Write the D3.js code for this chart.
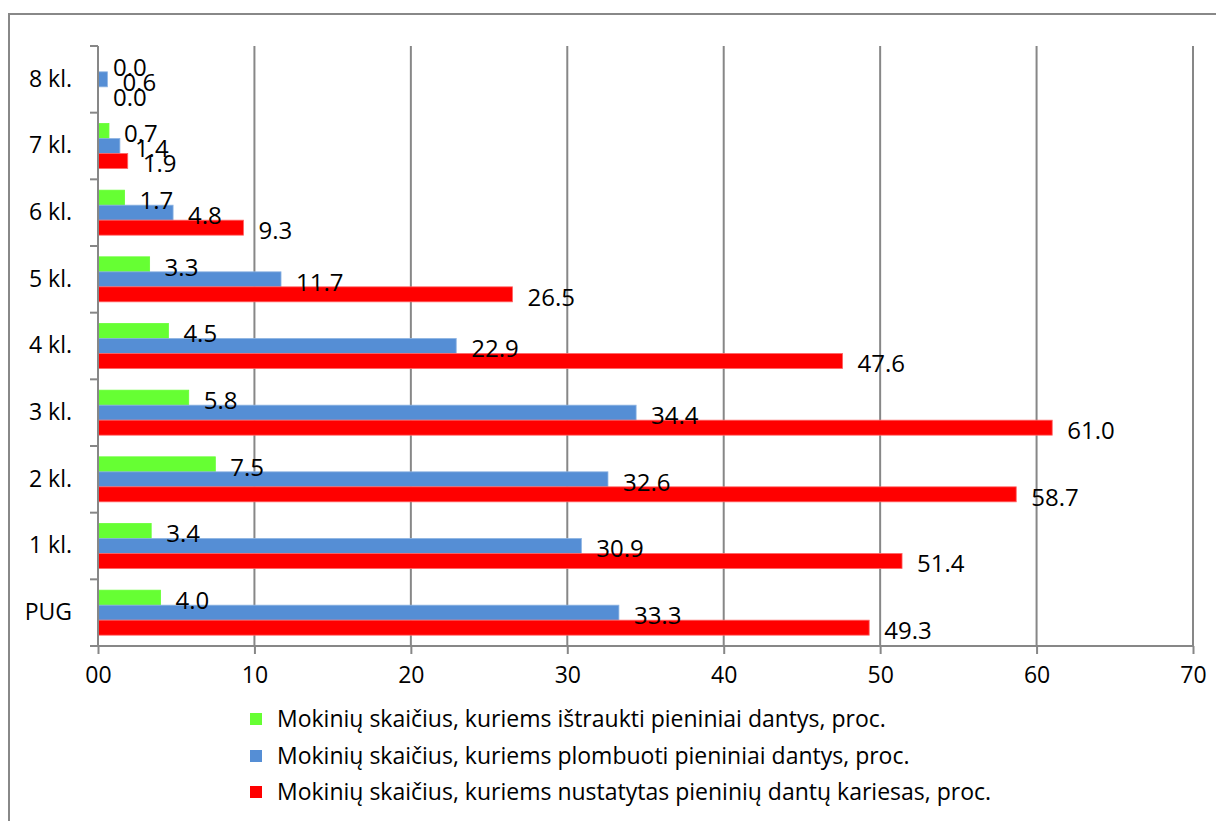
<!DOCTYPE html>
<html>
<head>
<meta charset="utf-8">
<script src="https://cdn.jsdelivr.net/npm/d3@7"></script>
<style>
  html, body { margin: 0; padding: 0; background: #fff; }
  svg { display: block; }
  text { font-family: "Open Sans", "Noto Sans", sans-serif; fill: #000; }
</style>
</head>
<body>
<svg id="chart" width="1216" height="821"></svg>
<script>
// Categories, bottom to top as drawn
const categories = ["PUG", "1 kl.", "2 kl.", "3 kl.", "4 kl.", "5 kl.", "6 kl.", "7 kl.", "8 kl."];
// Series values (percent)
const extracted = [4.0, 3.4, 7.5, 5.8, 4.5, 3.3, 1.7, 0.7, 0.0];
const filled    = [33.3, 30.9, 32.6, 34.4, 22.9, 11.7, 4.8, 1.4, 0.6];
const caries    = [49.3, 51.4, 58.7, 61.0, 47.6, 26.5, 9.3, 1.9, 0.0];
const seriesNames = [
  "Mokinių skaičius, kuriems ištraukti pieniniai dantys, proc.",
  "Mokinių skaičius, kuriems plombuoti pieniniai dantys, proc.",
  "Mokinių skaičius, kuriems nustatytas pieninių dantų kariesas, proc."
];
const seriesColors = ["#66ff33", "#558ed5", "#ff0000"];
const seriesStroke = ["#66ff33", "#8db3e2", "#ff6666"];
const xTickValues = [0, 10, 20, 30, 40, 50, 60, 70];
const xTickLabels = ["00", "10", "20", "30", "40", "50", "60", "70"];

const series = [extracted, filled, caries];

const svg = d3.select("#chart");

// outer frame
svg.append("rect")
  .attr("x", 9).attr("y", 14).attr("width", 1240).attr("height", 840)
  .attr("fill", "none").attr("stroke", "#888").attr("stroke-width", 2);

const pLeft = 98, pRight = 1193, pTop = 46, pBottom = 646;

const x = d3.scaleLinear().domain([0, 70]).range([pLeft, pRight]);
const y = d3.scaleBand().domain(categories.slice().reverse()).range([pTop, pBottom]).paddingInner(0).paddingOuter(0);

// gridlines
svg.append("g").selectAll("line")
  .data(xTickValues.filter(v => v > 0))
  .join("line")
  .attr("x1", d => x(d)).attr("x2", d => x(d))
  .attr("y1", pTop).attr("y2", pBottom)
  .attr("stroke", "#878787").attr("stroke-width", 2);

// bars
const barH = 15;
const barOffset = (y.bandwidth() - 3 * barH) / 2;
series.forEach((vals, si) => {
  svg.append("g").selectAll("rect")
    .data(categories.map((c, i) => ({ c, v: vals[i] })))
    .join("rect")
    .attr("x", x(0))
    .attr("y", d => y(d.c) + barOffset + si * barH)
    .attr("width", d => x(d.v) - x(0))
    .attr("height", barH)
    .attr("fill", seriesColors[si])
    .attr("stroke", d => d.v > 0 ? seriesStroke[si] : "none")
    .attr("stroke-width", 0.8);
});

// x axis
const xAxis = d3.axisBottom(x).tickValues(xTickValues)
  .tickFormat((d, i) => xTickLabels[i]).tickSize(8).tickPadding(13);
const gx = svg.append("g").attr("transform", `translate(0,${pBottom})`).call(xAxis);
gx.select(".domain").attr("stroke", "#878787").attr("stroke-width", 2).attr("d", `M${pLeft - 8},0H${pRight}`);
gx.selectAll(".tick line").attr("stroke", "#878787").attr("stroke-width", 2);
gx.selectAll(".tick text").attr("font-size", 23).attr("font-family", "Open Sans");

// y axis
const yAxis = d3.axisLeft(y).tickSize(0).tickPadding(26);
const gy = svg.append("g").attr("transform", `translate(${pLeft},0)`).call(yAxis);
gy.select(".domain").attr("stroke", "#878787").attr("stroke-width", 2).attr("d", `M0,${pTop}V${pBottom}`);
gy.selectAll(".tick text").attr("font-size", 23).attr("font-family", "Open Sans");
// band-boundary ticks
svg.append("g").selectAll("line")
  .data(d3.range(categories.length + 1))
  .join("line")
  .attr("x1", pLeft - 8).attr("x2", pLeft)
  .attr("y1", i => pTop + i * y.bandwidth()).attr("y2", i => pTop + i * y.bandwidth())
  .attr("stroke", "#878787").attr("stroke-width", 2);

// data labels
series.forEach((vals, si) => {
  svg.append("g").selectAll("text")
    .data(categories.map((c, i) => ({ c, v: vals[i] })))
    .join("text")
    .attr("x", d => x(d.v) + 15)
    .attr("y", d => y(d.c) + barOffset + si * barH + barH / 2 + 3)
    .attr("dy", "0.35em")
    .attr("font-size", 24)
    .text(d => d.v.toFixed(1));
});

// legend
const lg = svg.append("g");
const legendY = [719, 756, 792];
seriesNames.forEach((name, i) => {
  lg.append("rect").attr("x", 250).attr("y", legendY[i] - 6).attr("width", 12).attr("height", 12)
    .attr("fill", seriesColors[i]);
  lg.append("text").attr("x", 277).attr("y", legendY[i]).attr("dy", "0.35em")
    .attr("font-size", 23).text(name);
});
</script>
</body>
</html>
